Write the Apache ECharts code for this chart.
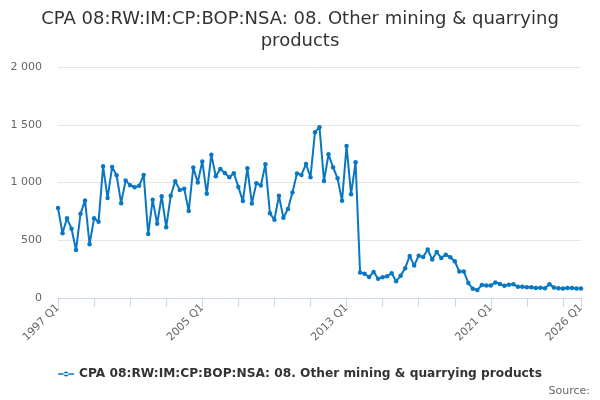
<!DOCTYPE html>
<html>
<head>
<meta charset="utf-8">
<script src="https://cdn.jsdelivr.net/npm/echarts@6/dist/echarts.min.js"></script>
<style>
html,body{margin:0;padding:0;background:#fff;}
#c{width:600px;height:400px;}
</style>
</head>
<body>
<div id="c"></div>
<script>
var startYear = 1997, endYear = 2026;
var categories = [];
for (var y = startYear; y <= endYear; y++) {
  for (var q = 1; q <= 4; q++) {
    if (y === endYear && q > 1) break;
    categories.push(y + ' Q' + q);
  }
}
var seriesName = 'CPA 08:RW:IM:CP:BOP:NSA: 08. Other mining & quarrying products';
var values = [
  780, 560, 690, 600, 415, 730, 845, 465, 690, 660,
  1140, 865, 1135, 1063, 821, 1017, 977, 959, 971, 1066,
  554, 850, 643, 882, 612, 885, 1011, 936, 945, 753,
  1129, 1000, 1182, 902, 1241, 1054, 1117, 1083, 1046, 1080,
  962, 839, 1123, 819, 994, 974, 1158, 733, 678, 885,
  695, 770, 914, 1078, 1066, 1160, 1046, 1436, 1479, 1014,
  1244, 1132, 1037, 841, 1315, 899, 1175, 220, 210, 182,
  226, 166, 180, 188, 214, 146, 192, 258, 364, 282,
  366, 355, 420, 333, 398, 347, 375, 352, 318, 230,
  230, 130, 80, 70, 112, 108, 108, 135, 122, 106,
  115, 120, 97, 98, 93, 93, 87, 89, 84, 120,
  90, 85, 82, 86, 86, 82, 82
];
var yTicks = [0, 500, 1000, 1500, 2000];

var chart = echarts.init(document.getElementById('c'), null, {renderer: 'canvas'});
var last = categories.length - 1;
chart.setOption({
  animation: false,
  title: {
    text: 'CPA 08:RW:IM:CP:BOP:NSA: 08. Other mining & quarrying\nproducts',
    left: 'center',
    top: 3,
    textStyle: {
      fontFamily: 'DejaVu Sans',
      fontSize: 18,
      fontWeight: 'normal',
      color: '#333333',
      lineHeight: 22,
      align: 'center'
    }
  },
  legend: {
    bottom: 15,
    left: 'center',
    itemWidth: 16,
    itemHeight: 8,
    icon: 'path://M0,3.2 L16,3.2 L16,4.8 L0,4.8 Z M5.5,4 A2.5,2.5 0 1 0 10.5,4 A2.5,2.5 0 1 0 5.5,4 Z',
    textStyle: {
      fontFamily: 'DejaVu Sans',
      fontSize: 12.2,
      fontWeight: 'bold',
      color: '#333333'
    },
    data: [seriesName]
  },
  graphic: [{
    type: 'text',
    right: 10,
    bottom: 3,
    style: {
      text: 'Source:',
      fontFamily: 'DejaVu Sans',
      fontSize: 11,
      fill: '#666666'
    }
  }],
  grid: {
    left: 58,
    right: 19,
    top: 67,
    bottom: 102,
    containLabel: false
  },
  xAxis: {
    type: 'category',
    data: categories,
    boundaryGap: false,
    axisLine: {lineStyle: {color: '#ccd6eb', width: 1}},
    axisTick: {
      length: 9,
      lineStyle: {color: '#ccd6eb'},
      interval: function (idx) { return idx % 8 === 0 || idx === last; }
    },
    axisLabel: {
      rotate: 45,
      margin: 8,
      fontFamily: 'DejaVu Sans',
      fontSize: 11,
      color: '#666666',
      interval: function (idx) { return idx % 32 === 0 || idx === last; }
    },
    splitLine: {show: false}
  },
  yAxis: {
    type: 'value',
    min: yTicks[0],
    max: yTicks[yTicks.length - 1],
    interval: 500,
    axisLine: {show: false},
    axisTick: {show: false},
    axisLabel: {
      margin: 16,
      fontFamily: 'DejaVu Sans',
      fontSize: 11,
      color: '#666666',
      formatter: function (v) {
        return String(v).replace(/\B(?=(\d{3})+(?!\d))/g, ' ');
      }
    },
    splitLine: {lineStyle: {color: '#e6e6e6', width: 1}}
  },
  series: [{
    name: seriesName,
    type: 'line',
    data: values,
    symbol: 'circle',
    symbolSize: 4.5,
    showSymbol: true,
    showAllSymbol: true,
    color: '#0a77c2',
    lineStyle: {width: 2, color: '#0a77c2'},
    itemStyle: {color: '#0a77c2'}
  }]
});
</script>
</body>
</html>
